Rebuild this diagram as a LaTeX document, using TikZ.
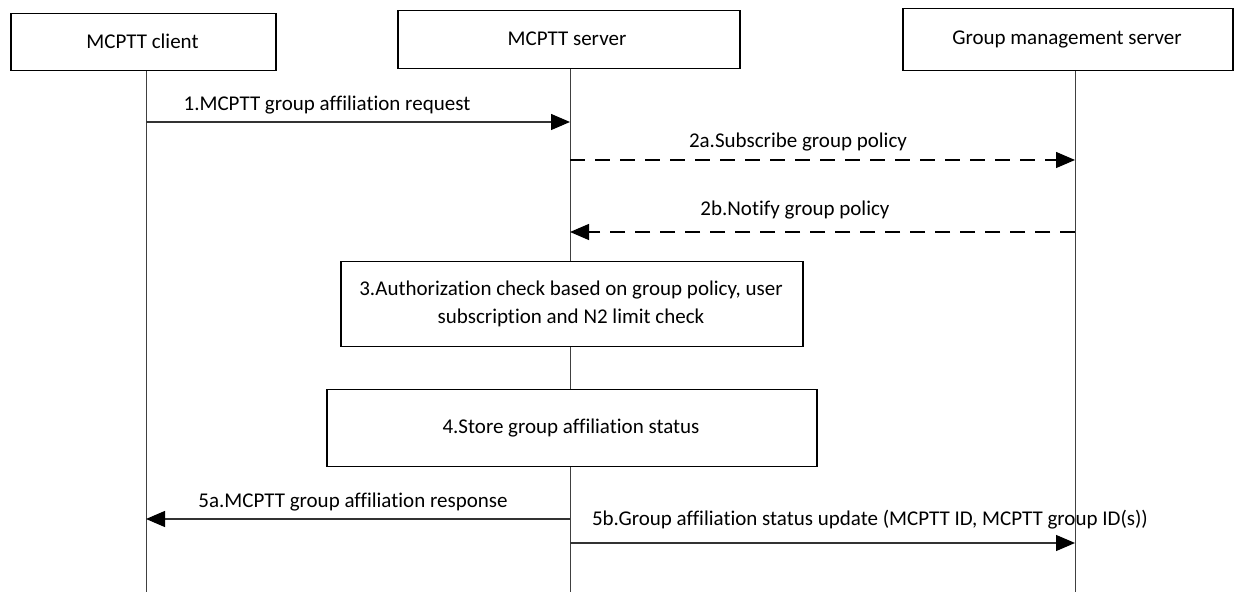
\documentclass[tikz,border=0pt]{standalone}
\usepackage{fontspec}
\setmainfont{Carlito}[Ligatures={NoCommon}]
\usetikzlibrary{arrows.meta}
\begin{document}
\begin{tikzpicture}[x=0.5pt,y=-0.5pt,
  every node/.style={font=\fontsize{10.5pt}{14pt}\selectfont},
  entity/.style={draw=black,line width=0.75pt,fill=white,inner sep=0pt,anchor=north west},
  lifeline/.style={draw=black!75,line width=0.5pt},
  msg/.style={draw=black!80,line width=0.65pt,-{Triangle[length=9.5pt,width=8pt,color=black]}},
  dmsg/.style={msg,draw=black,dash pattern=on 7.5pt off 5pt},
  lbl/.style={inner sep=0pt,anchor=base}]
\useasboundingbox (0,0) rectangle (1242,592);
% lifelines
\coordinate (ctop) at (146,70);  \coordinate (cbot) at (146,592);
\coordinate (stop) at (570,68);  \coordinate (sbot) at (570,592);
\coordinate (gtop) at (1075,70); \coordinate (gbot) at (1075,592);
\draw[lifeline] (ctop) -- (cbot);
\draw[lifeline] (stop) -- (sbot);
\draw[lifeline] (gtop) -- (gbot);
% entity boxes
\node[entity,minimum width=132.5pt,minimum height=28.5pt] (client) at (10,13) {};
\node at (142.5,41.5) {MCPTT client};
\node[entity,minimum width=171pt,minimum height=29pt] (server) at (397,10) {};
\node at (567,39) {MCPTT server};
\node[entity,minimum width=165pt,minimum height=31pt] (gms) at (902,8) {};
\node at (1067,39) {Group management server};
% process boxes
\node[entity,minimum width=231pt,minimum height=42.5pt] (auth) at (340,261) {};
\node[align=center] at (571,303.5) {3.Authorization check based on group policy, user\\subscription and N2 limit check};
\node[entity,minimum width=245pt,minimum height=38.5pt] (store) at (326,389) {};
\node at (571,428) {4.Store group affiliation status};
% messages
\coordinate (m1a) at (146,122);  \coordinate (m1b) at (570,122);
\coordinate (m2aa) at (570,160); \coordinate (m2ab) at (1075,160);
\coordinate (m2ba) at (1075,232);\coordinate (m2bb) at (570,232);
\coordinate (m5aa) at (570,519); \coordinate (m5ab) at (146,519);
\coordinate (m5ba) at (570,543); \coordinate (m5bb) at (1075,543);
\draw[msg] (m1a) -- (m1b);
\draw[dmsg] (m2aa) -- (m2ab);
\draw[dmsg] (m2ba) -- (m2bb);
\draw[msg] (m5aa) -- (m5ab);
\draw[msg] (m5ba) -- (m5bb);
\node[lbl] (l1) at (327,111) {1.MCPTT group affiliation request};
\node[lbl] (l2a) at (798,148) {2a.Subscribe group policy};
\node[lbl] (l2b) at (795,216) {2b.Notify group policy};
\node[lbl] (l5a) at (353,508) {5a.MCPTT group affiliation response};
\node[lbl] (l5b) at (870,526) {5b.Group affiliation status update (MCPTT ID, MCPTT group ID(s))};
\end{tikzpicture}
\end{document}
